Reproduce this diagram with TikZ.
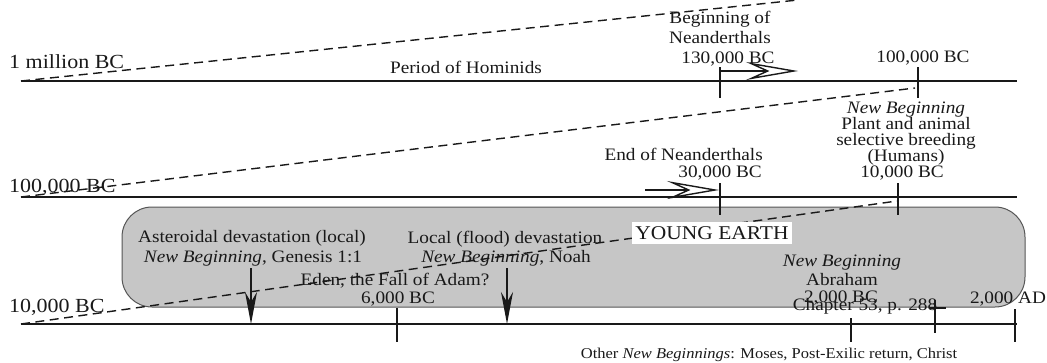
\documentclass[tikz,border=0pt]{standalone}
\usepackage{fontspec}
\setmainfont{Liberation Serif}[FakeStretch=1.1]
\usetikzlibrary{arrows.meta}
\definecolor{boxgray}{RGB}{198,198,198}
\definecolor{boxedge}{RGB}{85,85,85}
\definecolor{ink}{RGB}{25,25,25}
\begin{document}
\begin{tikzpicture}[x=1pt,y=-1pt,
  timeline/.style={line width=1.7pt, draw=ink},
  tickmark/.style={line width=1.4pt, draw=ink},
  dashline/.style={line width=1.4pt, draw=ink, dash pattern=on 9pt off 5.5pt},
  openarrow/.style={line width=1.4pt, draw=ink, -{Stealth[open, length=52pt, width=18pt, inset=20pt]}},
  downarrow/.style={line width=1.4pt, draw=ink, -{Stealth[length=32pt, width=12pt, inset=10pt]}},
  lbl/.style={font=\fontsize{17.5}{18}\selectfont, inner sep=0pt, anchor=base, text=ink},
  biglbl/.style={font=\fontsize{20}{21}\selectfont, inner sep=0pt, anchor=base west, text=ink},
  smalllbl/.style={font=\fontsize{15}{16}\selectfont, inner sep=0pt, anchor=base, text=ink},
  era/.style={draw=boxedge, line width=1pt, fill=boxgray, rounded corners=30pt}
]
\useasboundingbox (0,0) rectangle (1047,362);

% Young earth box
\draw[era] (122,207) rectangle (1025,307);

% timeline coordinates
\coordinate (L1a) at (21,81);  \coordinate (L1b) at (1017,81);
\coordinate (L2a) at (21,197); \coordinate (L2b) at (1017,197);
\coordinate (L3a) at (21,324); \coordinate (L3b) at (1017,324);

\draw[timeline] (L1a) -- (L1b);
\draw[timeline] (L2a) -- (L2b);
\draw[timeline] (L3a) -- (L3b);

% ticks (yshift is upward positive)
\coordinate (t130) at (720,81);
\coordinate (t100) at (918,81);
\coordinate (t30) at (720,197);
\coordinate (t10) at (898,197);
\coordinate (t6000) at (397,324);
\coordinate (t2000bc) at (851,324);
\coordinate (tch) at (935,324);
\coordinate (t2000ad) at (1015,324);

\draw[tickmark] ([yshift=14pt]t130) -- ([yshift=-17pt]t130);
\draw[tickmark] ([yshift=14pt]t100) -- ([yshift=-17pt]t100);
\draw[tickmark] ([yshift=14pt]t30) -- ([yshift=-18pt]t30);
\draw[tickmark] ([yshift=14pt]t10) -- ([yshift=-18pt]t10);
\draw[tickmark] ([yshift=16pt]t6000) -- ([yshift=-18pt]t6000);
\draw[tickmark] ([yshift=6pt]t2000bc) -- ([yshift=-18pt]t2000bc);
\draw[tickmark] ([yshift=24pt]tch) -- ([yshift=-9pt]tch);
\draw[tickmark] ([xshift=-5pt,yshift=16pt]tch) -- ([xshift=11pt,yshift=16pt]tch);
\draw[tickmark] ([yshift=15pt]t2000ad) -- ([yshift=-18pt]t2000ad);

% dashed projections
\coordinate (topend) at (798,0);
\coordinate (d100) at (915,88);
\coordinate (d10) at (897,201);
\draw[dashline] (L1a) -- (topend);
\draw[dashline] (L2a) -- (d100);
\draw[dashline] (L3a) -- (d10);

% open arrows
\coordinate (na1) at (721,71);
\coordinate (na2) at (798,71);
\draw[openarrow] (na1) -- (na2);
\coordinate (nb1) at (645,190);
\coordinate (nb2) at (719,190);
\draw[openarrow] (nb1) -- (nb2);

% texts
\node[biglbl] (m1) at (9,68) {1 million BC};
\node[biglbl] (m100) at (9,192) {100,000 BC};
\node[biglbl] (m10) at (9,312) {10,000 BC};

\node[lbl] (hom) at (466,73) {Period of Hominids};
\node[lbl] (bn1) at (720,23) {Beginning of};
\node[lbl] (bn2) at (720,43) {Neanderthals};
\node[lbl] (bn3) at (728,63) {130,000 BC};
\node[lbl] (k100) at (923,62) {100,000 BC};

\node[lbl] (pa1) at (906,113) {\itshape New Beginning};
\node[lbl] (pa2) at (906,129) {Plant and animal};
\node[lbl] (pa3) at (906,145) {selective breeding};
\node[lbl] (pa4) at (906,161) {(Humans)};
\node[lbl] (pa5) at (902,177) {10,000 BC};

\node[lbl, anchor=base east] (en1) at (763,160) {End of Neanderthals};
\node[lbl, anchor=base east] (en2) at (762,177) {30,000 BC};

\node[lbl] (as1) at (252,242) {Asteroidal devastation (local)};
\node[lbl] (as2) at (253,262) {\textit{New Beginning}, Genesis 1:1};
\node[lbl] (fl1) at (505,243) {Local (flood) devastation};
\node[lbl] (fl2) at (506,262) {\textit{New Beginning}, Noah};
\node[lbl] (ed1) at (395,285) {Eden, the Fall of Adam?};
\node[lbl] (ed2) at (398,303) {6,000 BC};
\node[lbl] (ab1) at (842,266) {\itshape New Beginning};
\node[lbl] (ab2) at (842,285) {Abraham};
\node[lbl] (ab3) at (841,302) {2,000 BC};
\node[lbl] (ch) at (865,310) {Chapter 53, p. 288};
\node[lbl] (ad) at (1008,303) {2,000 AD};
\node[smalllbl] (oth) at (769,358) {Other \textit{New Beginnings}: Moses, Post-Exilic return, Christ};

\node[font=\fontsize{19.5}{20}\selectfont, fill=white, inner xsep=3pt, inner ysep=4pt, text=ink] (ye) at (712,233) {YOUNG EARTH};

% down arrows
\coordinate (g1) at (251,268);
\coordinate (g2) at (251,324);
\coordinate (n1) at (507,268);
\coordinate (n2) at (507,324);
\draw[downarrow] (g1) -- (g2);
\draw[downarrow] (n1) -- (n2);
\end{tikzpicture}
\end{document}
